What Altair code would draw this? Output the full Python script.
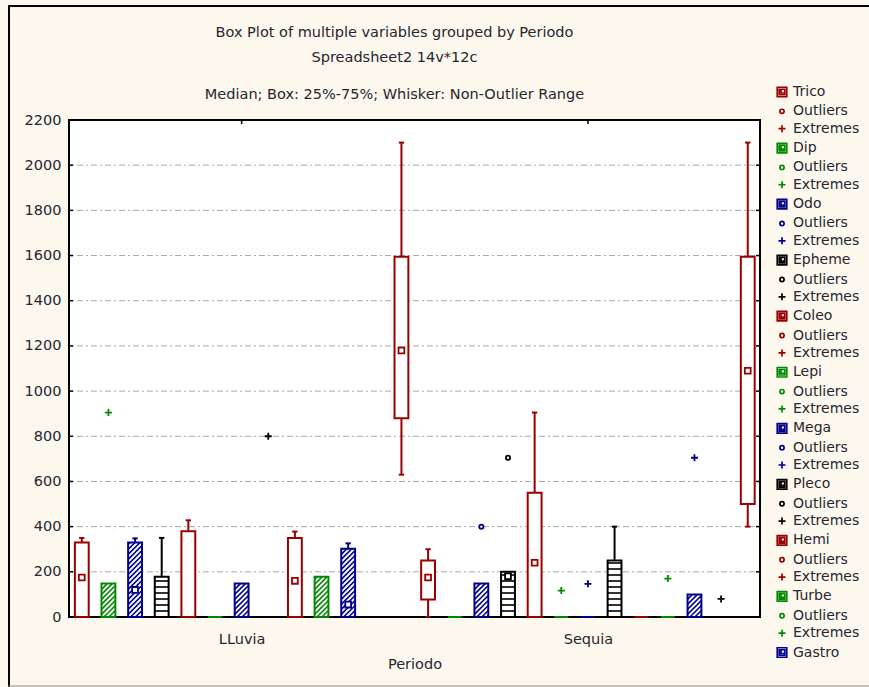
import altair as alt
import pandas as pd

FONT = "DejaVu Sans"
TEXT = "#26262e"
BG = "#fdf8ee"

# ---- data -------------------------------------------------------------
periods = ["LLuvia", "Sequia"]
variables = ["Trico", "Dip", "Odo", "Epheme", "Coleo", "Lepi", "Mega",
             "Pleco", "Hemi", "Turbe", "Gastro", "Var12", "Var13"]
var_colors = ["#9a0000", "#008a00", "#00008f", "#000000"] * 3 + ["#9a0000"]
var_fill = ["none", "diag", "diag", "ladder"] * 3 + ["none"]

# min, 25%, median, 75%, max (non-outlier range) per variable
lluvia_min = [0, 0, 0, 0, 0, 0, 0, 0, 0, 0, 0, 0, 630]
lluvia_q1 = [0, 0, 0, 0, 0, 0, 0, 0, 0, 0, 0, 0, 880]
lluvia_med = [175, 0, 120, 0, 0, 0, 0, 0, 160, 0, 55, 0, 1180]
lluvia_q3 = [330, 148, 330, 178, 380, 0, 148, 0, 350, 178, 302, 0, 1595]
lluvia_max = [350, 148, 348, 350, 428, 0, 148, 0, 378, 178, 326, 0, 2100]

sequia_min = [0, 0, 0, 0, 0, 0, 0, 0, 0, 0, 0, 0, 400]
sequia_q1 = [78, 0, 0, 0, 0, 0, 0, 0, 0, 0, 0, 0, 500]
sequia_med = [175, 0, 0, 180, 240, 0, 0, 0, 0, 0, 0, 0, 1090]
sequia_q3 = [250, 0, 148, 200, 550, 0, 0, 250, 0, 0, 100, 0, 1595]
sequia_max = [300, 0, 148, 200, 905, 0, 0, 400, 0, 0, 100, 0, 2100]

# outliers / extremes
pt_period = ["LLuvia", "LLuvia", "Sequia", "Sequia", "Sequia",
             "Sequia", "Sequia", "Sequia", "Sequia"]
pt_var = ["Dip", "Pleco", "Odo", "Epheme", "Lepi", "Mega", "Turbe", "Gastro", "Var12"]
pt_kind = ["Extremes", "Extremes", "Outliers", "Outliers", "Extremes",
           "Extremes", "Extremes", "Extremes", "Extremes"]
pt_value = [905, 800, 400, 705, 117, 147, 170, 705, 80]

y_ticks = list(range(0, 2201, 200))
grid_values = list(range(200, 2001, 200))

# ---- geometry of the panel ---------------------------------------------
W, H = 691, 497
X_LO, X_HI = -0.48, 25.46
PX_X = W / (X_HI - X_LO)
PX_Y = H / 2200.0
HW = 0.26     # half box width (slot units)
CAP = 0.10    # half whisker-cap width
NV = len(variables)

rows = []
stats = [(lluvia_min, lluvia_q1, lluvia_med, lluvia_q3, lluvia_max),
         (sequia_min, sequia_q1, sequia_med, sequia_q3, sequia_max)]
for p_i, (mn, q1, md, q3, mx) in enumerate(stats):
    for v_i, var in enumerate(variables):
        slot = p_i * NV + v_i
        rows.append(dict(period=periods[p_i], var=var, slot=slot,
                         lo=mn[v_i], q1=q1[v_i], med=md[v_i], q3=q3[v_i], hi=mx[v_i],
                         col=var_colors[v_i], fillstyle=var_fill[v_i],
                         left=slot - HW, right=slot + HW,
                         cl=slot - CAP, cr=slot + CAP))
boxes = pd.DataFrame(rows)

# hatching inside the boxes, built from each box's extent
hatch = []
DIAG_STEP, LADDER_STEP = 5.0, 6.0
for r in boxes.itertuples():
    h = (r.q3 - r.q1) * PX_Y
    w = 2 * HW * PX_X
    if h < 3:
        continue
    if r.fillstyle == "diag":
        c = -w + 1.5
        while c < h:
            u0, u1 = max(0.0, -c), min(w, h - c)
            if u1 - u0 > 0.8:
                hatch.append(dict(x=r.left + u0 / PX_X, y=r.q1 + (u0 + c) / PX_Y,
                                  x2=r.left + u1 / PX_X, y2=r.q1 + (u1 + c) / PX_Y,
                                  col=r.col))
            c += DIAG_STEP
    elif r.fillstyle == "ladder":
        v = LADDER_STEP
        while v < h - 2:
            yv = r.q1 + v / PX_Y
            hatch.append(dict(x=r.left, y=yv, x2=r.right, y2=yv, col=r.col))
            v += LADDER_STEP
hatch = pd.DataFrame(hatch)

pts = pd.DataFrame(dict(period=pt_period, var=pt_var, kind=pt_kind, value=pt_value))
pts["slot"] = [periods.index(p) * NV + variables.index(v) for p, v in zip(pt_period, pt_var)]
pts["key"] = pts["var"] + "|" + pts["kind"]

# legend keys: box, outliers, extremes for every variable
BOX_ICON = "M-0.95,-0.95H0.95V0.95H-0.95Z M-0.55,-0.55H0.55V0.55H-0.55Z M-0.2,-0.55V0.2H0.55"
OUT_ICON = "M0.42,0A0.42,0.42 0 1,1 -0.42,0A0.42,0.42 0 1,1 0.42,0Z"
EXT_ICON = "M-0.7,0H0.7M0,-0.7V0.7"
keys, key_colors, key_shapes = [], [], []
for var, col in zip(variables, var_colors):
    for suffix, shape in [("", BOX_ICON), ("|Outliers", OUT_ICON), ("|Extremes", EXT_ICON)]:
        keys.append(var + suffix)
        key_colors.append(col)
        key_shapes.append(shape)
legend_keys = keys[:31]

# ---- scales & axes --------------------------------------------------------
x_scale = alt.Scale(domain=[X_LO, X_HI], nice=False, zero=False)
y_scale = alt.Scale(domain=[0, 2200], nice=False, zero=False)
group_centers = [(NV - 1) / 2, NV + (NV - 1) / 2]
label_expr = "datum.value < %d ? '%s' : '%s'" % (NV, periods[0], periods[1])

x_axis = alt.Axis(values=group_centers, labelExpr=label_expr, title="Periodo",
                  grid=False, ticks=False, domain=False, labelPadding=15,
                  titlePadding=12, labelFontSize=14.5, titleFontSize=14.5,
                  titleFontWeight="normal")
y_axis = alt.Axis(values=y_ticks, format="d", title=None, grid=False, ticks=False,
                  domain=False, labelPadding=8, labelFontSize=14.5)


def X(field):
    return alt.X(field, scale=x_scale, axis=x_axis)


def Y(field):
    return alt.Y(field, scale=y_scale, axis=y_axis)


one = pd.DataFrame({"a": [0]})

grid = alt.Chart(pd.DataFrame({"v": grid_values})).mark_rule(
    color="#a8a8a8", strokeWidth=1, strokeDash=[2, 3, 6, 3]
).encode(y=Y("v:Q"))

whisk = alt.Chart(boxes).mark_rule(strokeWidth=2).encode(
    x=X("slot:Q"), y=Y("lo:Q"), y2="hi:Q",
    stroke=alt.Stroke("col:N", scale=None),
)

caps_hi = alt.Chart(boxes[boxes.hi > boxes.q3]).mark_rule(strokeWidth=2).encode(
    x=X("cl:Q"), x2="cr:Q", y=Y("hi:Q"),
    stroke=alt.Stroke("col:N", scale=None),
)
caps_lo = alt.Chart(boxes[boxes.lo < boxes.q1]).mark_rule(strokeWidth=2).encode(
    x=X("cl:Q"), x2="cr:Q", y=Y("lo:Q"),
    stroke=alt.Stroke("col:N", scale=None),
)

box = alt.Chart(boxes).mark_rect(fill="white", strokeWidth=2).encode(
    x=X("left:Q"), x2="right:Q", y=Y("q1:Q"), y2="q3:Q",
    stroke=alt.Stroke("col:N", scale=None),
)

hatch_layer = alt.Chart(hatch).mark_rule(strokeWidth=1.6).encode(
    x=X("x:Q"), x2="x2:Q", y=Y("y:Q"), y2="y2:Q",
    stroke=alt.Stroke("col:N", scale=None),
)

median = alt.Chart(boxes[boxes.med > boxes.q1]).mark_square(
    size=34, fill="white", strokeWidth=1.8, opacity=1
).encode(
    x=X("slot:Q"), y=Y("med:Q"),
    stroke=alt.Stroke("col:N", scale=None),
)

legend = alt.Legend(
    title=None, values=legend_keys, orient="none", legendX=706, legendY=-35,
    labelExpr="indexof(datum.label, '|') >= 0 ? '\u00a0' + slice(datum.label, indexof(datum.label, '|') + 1) : datum.label",
    labelFont=FONT, labelFontSize=14, labelColor=TEXT, labelOffset=4,
    symbolSize=100, symbolStrokeWidth=1.7, rowPadding=3.35, padding=0,
    symbolLimit=60,
)
points = alt.Chart(pts).mark_point(filled=False, size=100, strokeWidth=1.8, opacity=1).encode(
    x=X("slot:Q"), y=Y("value:Q"),
    color=alt.Color("key:N", scale=alt.Scale(domain=keys, range=key_colors), legend=legend),
    shape=alt.Shape("key:N", scale=alt.Scale(domain=keys, range=key_shapes), legend=legend),
)

# inward ticks on the frame
ticks_l = alt.Chart(pd.DataFrame({"v": y_ticks})).mark_rule(color="black", strokeWidth=1.5).encode(
    y=Y("v:Q"), x=alt.value(0), x2=alt.value(4))
ticks_r = alt.Chart(pd.DataFrame({"v": y_ticks})).mark_rule(color="black", strokeWidth=1.5).encode(
    y=Y("v:Q"), x=alt.value(W - 4), x2=alt.value(W))
ticks_t = alt.Chart(pd.DataFrame({"g": group_centers})).mark_rule(color="black", strokeWidth=1.5).encode(
    x=X("g:Q"), y=alt.value(0), y2=alt.value(4))

# window frame around the whole graph
frame_top = alt.Chart(one).mark_rule(color="black", strokeWidth=2).encode(
    x=alt.value(-61), x2=alt.value(W + 120), y=alt.value(-114), y2=alt.value(-114))
frame_left = alt.Chart(one).mark_rule(color="black", strokeWidth=2).encode(
    x=alt.value(-60), y=alt.value(-115), y2=alt.value(H + 70))
frame_bottom = alt.Chart(one).mark_rule(color="#8a8a8a", strokeWidth=1).encode(
    x=alt.value(-61), x2=alt.value(W + 120), y=alt.value(H + 69), y2=alt.value(H + 69))

chart = alt.layer(
    grid, whisk, caps_hi, caps_lo, box, hatch_layer, median, points,
    ticks_l, ticks_r, ticks_t, frame_top, frame_left, frame_bottom,
).properties(
    width=W, height=H,
    padding={"left": 69, "top": 120, "right": 869 - 69 - W, "bottom": 687 - 120 - H},
    autosize=alt.AutoSizeParams(type="none"),
    background=BG,
    title=alt.TitleParams(
        text=["Box Plot of multiple variables grouped by  Periodo", "Spreadsheet2 14v*12c"],
        subtitle="Median; Box: 25%-75%; Whisker: Non-Outlier Range",
        font=FONT, fontSize=14.5, fontWeight="normal", color=TEXT, lineHeight=25,
        subtitleFont=FONT, subtitleFontSize=14.5, subtitleColor=TEXT,
        subtitlePadding=22, offset=-98, anchor="middle", frame="group", dx=-20,
    ),
).configure_view(
    fill="white", stroke="black", strokeWidth=2
).configure_axis(
    labelFont=FONT, titleFont=FONT, labelColor=TEXT, titleColor=TEXT,
)

chart.save("out.html", embed_options={"renderer": "svg", "actions": False})
